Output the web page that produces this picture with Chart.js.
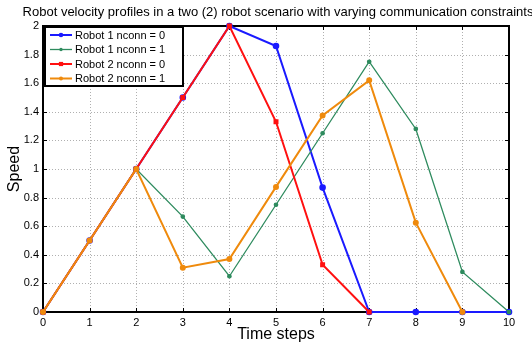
<!DOCTYPE html>
<html><head><meta charset="utf-8">
<script src="https://cdn.jsdelivr.net/npm/chart.js@4/dist/chart.umd.min.js"></script>
<style>html,body{margin:0;padding:0;background:#fff}#wrap{width:532px;height:346px}</style>
</head><body><div id="wrap"><canvas id="c" width="532" height="346"></canvas></div>
<script>
const timeSteps = [0,1,2,3,4,5,6,7,8,9,10];
const robot1Nconn0 = [0,0.5,1,1.5,2,1.86,0.87,0,0,0,0];
const robot1Nconn1 = [0,0.5,1,0.667,0.25,0.75,1.25,1.75,1.28,0.28,0];
const robot2Nconn0 = [0,0.5,1,1.5,2,1.33,0.33,0,null,null,null];
const robot2Nconn1 = [0,0.5,1,0.31,0.37,0.875,1.375,1.62,0.625,0,null];
const yTickLabels = ['0','0.2','0.4','0.6','0.8','1','1.2','1.4','1.6','1.8','2'];
const xTickLabels = ['0','1','2','3','4','5','6','7','8','9','10'];
const titleText = 'Robot velocity profiles in a two (2) robot scenario with varying communication constraints';
const xTitle = 'Time steps';
const yTitle = 'Speed';
const FONT = '"Liberation Sans", Arial, sans-serif';

function pts(arr){ return timeSteps.map((t,i)=>({x:t,y:arr[i]})).filter(p=>p.y!==null); }

const frame = {
  id:'frame',
  beforeDatasetsDraw(chart){
    const {ctx, chartArea:a, scales:{x,y}} = chart;
    ctx.save();
    ctx.strokeStyle='#b0b0b0'; ctx.lineWidth=1; ctx.setLineDash([1,2]);
    for(let v=1; v<10; v++){ const px=Math.round(x.getPixelForValue(v))+0.5; ctx.beginPath(); ctx.moveTo(px,a.top); ctx.lineTo(px,a.bottom); ctx.stroke(); }
    for(let i=1;i<10;i++){ const py=Math.round(y.getPixelForValue(i*0.2))+0.5; ctx.beginPath(); ctx.moveTo(a.left,py); ctx.lineTo(a.right,py); ctx.stroke(); }
    ctx.setLineDash([]);
    ctx.strokeStyle='#000'; ctx.lineWidth=1;
    for(let v=0; v<=10; v++){ const px=Math.round(x.getPixelForValue(v))+0.5; ctx.beginPath(); ctx.moveTo(px,a.bottom); ctx.lineTo(px,a.bottom-4); ctx.moveTo(px,a.top); ctx.lineTo(px,a.top+4); ctx.stroke(); }
    for(let i=0;i<=10;i++){ const py=Math.round(y.getPixelForValue(i*0.2))+0.5; ctx.beginPath(); ctx.moveTo(a.left,py); ctx.lineTo(a.left+4,py); ctx.moveTo(a.right,py); ctx.lineTo(a.right-4,py); ctx.stroke(); }
    ctx.lineWidth=2;
    ctx.strokeRect(a.left, a.top, a.right-a.left, a.bottom-a.top);
    ctx.restore();
  },
  afterDatasetsDraw(chart){
    const {ctx, chartArea:a} = chart;
    ctx.save();
    ctx.fillStyle='#000';
    ctx.font='13px '+FONT; ctx.textAlign='center'; ctx.textBaseline='middle';
    ctx.fillText(titleText, (a.left+a.right)/2+2, 12);
    ctx.font='16px '+FONT;
    ctx.fillText(xTitle, (a.left+a.right)/2, 335);
    ctx.save(); ctx.translate(15,(a.top+a.bottom)/2); ctx.rotate(-Math.PI/2); ctx.fillText(yTitle,0,0); ctx.restore();
    // legend
    const lx=a.left+2, ly=a.top+1, lw=138, lh=59;
    ctx.fillStyle='#fff'; ctx.fillRect(lx,ly,lw,lh);
    ctx.lineWidth=2; ctx.strokeStyle='#000'; ctx.strokeRect(lx,ly,lw,lh);
    ctx.font='11px '+FONT; ctx.textAlign='left'; ctx.textBaseline='middle';
    chart.data.datasets.forEach((ds,i)=>{
      const yy = ly+8+i*14.5;
      ctx.strokeStyle=ds.borderColor; ctx.lineWidth=ds.borderWidth;
      ctx.beginPath(); ctx.moveTo(lx+5,yy); ctx.lineTo(lx+27,yy); ctx.stroke();
      ctx.fillStyle=ds.borderColor;
      const r=ds.pointRadius, cx=lx+16;
      if(ds.pointStyle==='rect'){ ctx.fillRect(cx-r,yy-r,2*r,2*r); }
      else { ctx.beginPath(); ctx.arc(cx,yy,r,0,Math.PI*2); ctx.fill(); }
      ctx.fillStyle='#000';
      ctx.fillText(ds.label, lx+30, yy+0.5);
    });
    ctx.restore();
  }
};

new Chart(document.getElementById('c'), {
  type:'line',
  data:{ datasets:[
    {label:'Robot 1 nconn = 0', data:pts(robot1Nconn0), order:3, clip:false, borderColor:'#1a1aff', backgroundColor:'#1a1aff', borderWidth:2, pointRadius:2.3, pointStyle:'circle'},
    {label:'Robot 1 nconn = 1', data:pts(robot1Nconn1), order:2, clip:false, borderColor:'#2e8b5e', backgroundColor:'#2e8b5e', borderWidth:1.3, pointRadius:1.7, pointStyle:'circle'},
    {label:'Robot 2 nconn = 0', data:pts(robot2Nconn0), order:1, clip:false, borderColor:'#ff1010', backgroundColor:'#ff1010', borderWidth:2, pointRadius:2.1, pointStyle:'rect'},
    {label:'Robot 2 nconn = 1', data:pts(robot2Nconn1), order:0, clip:false, borderColor:'#ef8a0c', backgroundColor:'#ef8a0c', borderWidth:2, pointRadius:2, pointStyle:'circle'}
  ]},
  options:{
    responsive:false, animation:false, devicePixelRatio:1,
    layout:{padding:{top:26,right:23,left:0,bottom:0}},
    plugins:{legend:{display:false}, title:{display:false}, tooltip:{enabled:false}},
    elements:{line:{tension:0}, point:{borderWidth:0}},
    scales:{
      x:{type:'linear', min:0, max:10, grid:{display:false, drawTicks:false}, border:{display:false},
         afterFit(s){ s.height=34; },
         afterBuildTicks(s){ s.ticks = timeSteps.map(v=>({value:v})); },
         ticks:{padding:4, color:'#000', font:{family:FONT,size:11}, maxRotation:0, autoSkip:false, callback:(v,i)=>xTickLabels[i]}},
      y:{type:'linear', min:0, max:2, grid:{display:false, drawTicks:false}, border:{display:false},
         afterFit(s){ s.width=43; },
         afterBuildTicks(s){ s.ticks = yTickLabels.map(t=>({value:parseFloat(t)})); },
         ticks:{padding:4, color:'#000', font:{family:FONT,size:11}, autoSkip:false, callback:(v,i)=>yTickLabels[i]}}
    }
  },
  plugins:[frame]
});
</script></body></html>
